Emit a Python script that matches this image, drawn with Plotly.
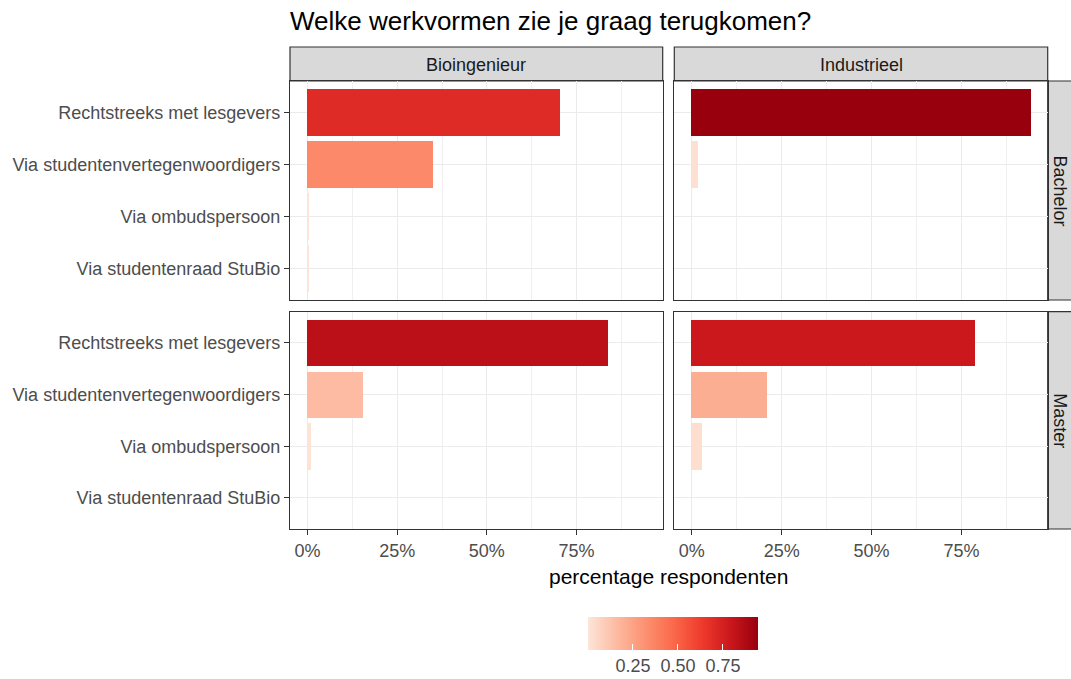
import plotly.graph_objects as go

# ---------------- data ----------------
categories = [
    "Rechtstreeks met lesgevers",
    "Via studentenvertegenwoordigers",
    "Via ombudspersoon",
    "Via studentenraad StuBio",
]
opleidingen = ["Bioingenieur", "Industrieel"]
niveaus = ["Bachelor", "Master"]

bio_bachelor = [0.703, 0.351, 0.002, 0.002]
ind_bachelor = [0.945, 0.019, 0.0, 0.0]
bio_master = [0.837, 0.156, 0.010, 0.0]
ind_master = [0.789, 0.209, 0.028, 0.0]

x_ticks = [0, 0.25, 0.5, 0.75]
x_ticktext = ["0%", "25%", "50%", "75%"]
cbar_ticks = [0.25, 0.50, 0.75]
cbar_ticktext = ["0.25", "0.50", "0.75"]

title_text = "Welke werkvormen zie je graag terugkomen?"
x_title = "percentage respondenten"

# ---------------- styling ----------------
reds = ["#FEE5D9", "#FCBBA1", "#FC9272", "#FB6A4A", "#EF3B2C", "#CB181D", "#99000D"]
colorscale = [[i / (len(reds) - 1), c] for i, c in enumerate(reds)]
FONT = "Liberation Sans, Arial, sans-serif"
W, H = 1071, 679
ML, MT = 290, 47
MR = 0
MB = H - 529
PW = W - ML - MR
PH = H - MT - MB


def px_x(px):
    """screen pixel x -> paper x"""
    return (px - ML) / PW


def px_y(py):
    """screen pixel y -> paper y"""
    return (H - MB - py) / PH


x_dom = [[px_x(290), px_x(662.7)], [px_x(674.3), px_x(1047.7)]]
y_dom = [[px_y(300), px_y(81)], [px_y(529), px_y(311.7)]]  # row 0 = Bachelor, row 1 = Master

panels = [
    (bio_bachelor, 0, 0),
    (ind_bachelor, 0, 1),
    (bio_master, 1, 0),
    (ind_master, 1, 1),
]

cmax = max(max(bio_bachelor), max(ind_bachelor), max(bio_master), max(ind_master))

fig = go.Figure()
layout = {}
for k, (vals, r, c) in enumerate(panels):
    idx = k + 1
    xa = "x" if idx == 1 else f"x{idx}"
    ya = "y" if idx == 1 else f"y{idx}"
    fig.add_trace(
        go.Bar(
            x=vals,
            y=categories,
            orientation="h",
            width=0.9,
            marker=dict(color=vals, coloraxis="coloraxis", line=dict(width=0)),
            xaxis=xa,
            yaxis=ya,
            showlegend=False,
        )
    )
    xkey = "xaxis" if idx == 1 else f"xaxis{idx}"
    ykey = "yaxis" if idx == 1 else f"yaxis{idx}"
    bottom = r == 1
    left = c == 0
    layout[xkey] = dict(
        domain=x_dom[c],
        anchor=ya,
        automargin=False,
        range=[-0.0486, 0.990],
        tickvals=x_ticks,
        ticktext=x_ticktext,
        showticklabels=bottom,
        ticks="outside" if bottom else "",
        ticklen=5,
        tickcolor="#333333",
        tickwidth=1,
        tickfont=dict(family=FONT, size=18, color="#4D4D4D"),
        showgrid=True,
        gridcolor="#EBEBEB",
        gridwidth=1.1,
        minor=dict(tickvals=[0.125, 0.375, 0.625, 0.875], showgrid=True,
                   gridcolor="#F0F0F0", gridwidth=1, ticks=""),
        zeroline=False,
        showline=True,
        mirror=True,
        linecolor="#333333",
        linewidth=1.2,
        fixedrange=True,
    )
    layout[ykey] = dict(
        domain=y_dom[r],
        anchor=xa,
        automargin=False,
        type="category",
        categoryorder="array",
        categoryarray=categories[::-1],
        range=[-0.6, 3.6],
        showticklabels=left,
        ticks="outside" if left else "",
        ticklen=5,
        tickcolor="#333333",
        tickwidth=1,
        tickfont=dict(family=FONT, size=18, color="#4D4D4D"),
        showgrid=True,
        gridcolor="#EBEBEB",
        gridwidth=1.1,
        zeroline=False,
        showline=True,
        mirror=True,
        linecolor="#333333",
        linewidth=1.2,
        fixedrange=True,
    )

shapes = []
annotations = []
strip_fill = "#D9D9D9"
strip_line = dict(color="#333333", width=1.2)
# top strips
for c, name in enumerate(opleidingen):
    shapes.append(dict(type="rect", xref="paper", yref="paper",
                       x0=x_dom[c][0], x1=x_dom[c][1], y0=px_y(81), y1=px_y(47),
                       fillcolor=strip_fill, line=strip_line, layer="below"))
    annotations.append(dict(xref="paper", yref="paper",
                            x=(x_dom[c][0] + x_dom[c][1]) / 2, y=px_y(65),
                            text=name, showarrow=False,
                            font=dict(family=FONT, size=18, color="#1A1A1A"),
                            xanchor="center", yanchor="middle"))
# right strips
for r, name in enumerate(niveaus):
    shapes.append(dict(type="rect", xref="paper", yref="paper",
                       x0=px_x(1047.7), x1=px_x(1085), y0=y_dom[r][0], y1=y_dom[r][1],
                       fillcolor=strip_fill, line=strip_line, layer="below"))
    annotations.append(dict(xref="paper", yref="paper",
                            x=px_x(1060), y=(y_dom[r][0] + y_dom[r][1]) / 2,
                            text=name, showarrow=False, textangle=90,
                            font=dict(family=FONT, size=18, color="#1A1A1A"),
                            xanchor="center", yanchor="middle"))

annotations.append(dict(xref="paper", yref="paper",
                        x=px_x(668.6), y=px_y(576), text=x_title, showarrow=False,
                        font=dict(family=FONT, size=21, color="#000000"),
                        xanchor="center", yanchor="middle"))

fig.update_layout(
    **layout,
    template="none",
    width=W,
    height=H,
    margin=dict(l=ML, r=MR, t=MT, b=MB, pad=0, autoexpand=False),
    paper_bgcolor="white",
    plot_bgcolor="white",
    bargap=0,
    hovermode=False,
    title=dict(text=title_text, x=px_x(290), xref="paper", xanchor="left",
               y=1 - 21 / H, yref="container", yanchor="middle",
               font=dict(family=FONT, size=26, color="#000000")),
    coloraxis=dict(
        colorscale=colorscale,
        cmin=0,
        cmax=cmax,
        colorbar=dict(
            orientation="h",
            x=px_x(673), xanchor="center", xref="paper",
            y=px_y(617), yanchor="top", yref="paper",
            lenmode="pixels", len=169.5,
            thickness=33, thicknessmode="pixels",
            xpad=0, ypad=0,
            outlinewidth=0,
            tickvals=cbar_ticks,
            ticktext=cbar_ticktext,
            ticks="inside", ticklen=6, tickcolor="white", tickwidth=1,
            tickfont=dict(family=FONT, size=18, color="#4D4D4D"),
            title=dict(text=""),
        ),
    ),
    shapes=shapes,
    annotations=annotations,
)

fig.write_html(
    "out.html",
    config={"displayModeBar": False},
    post_script="document.body.style.margin='0';document.body.style.overflow='hidden';",
)
